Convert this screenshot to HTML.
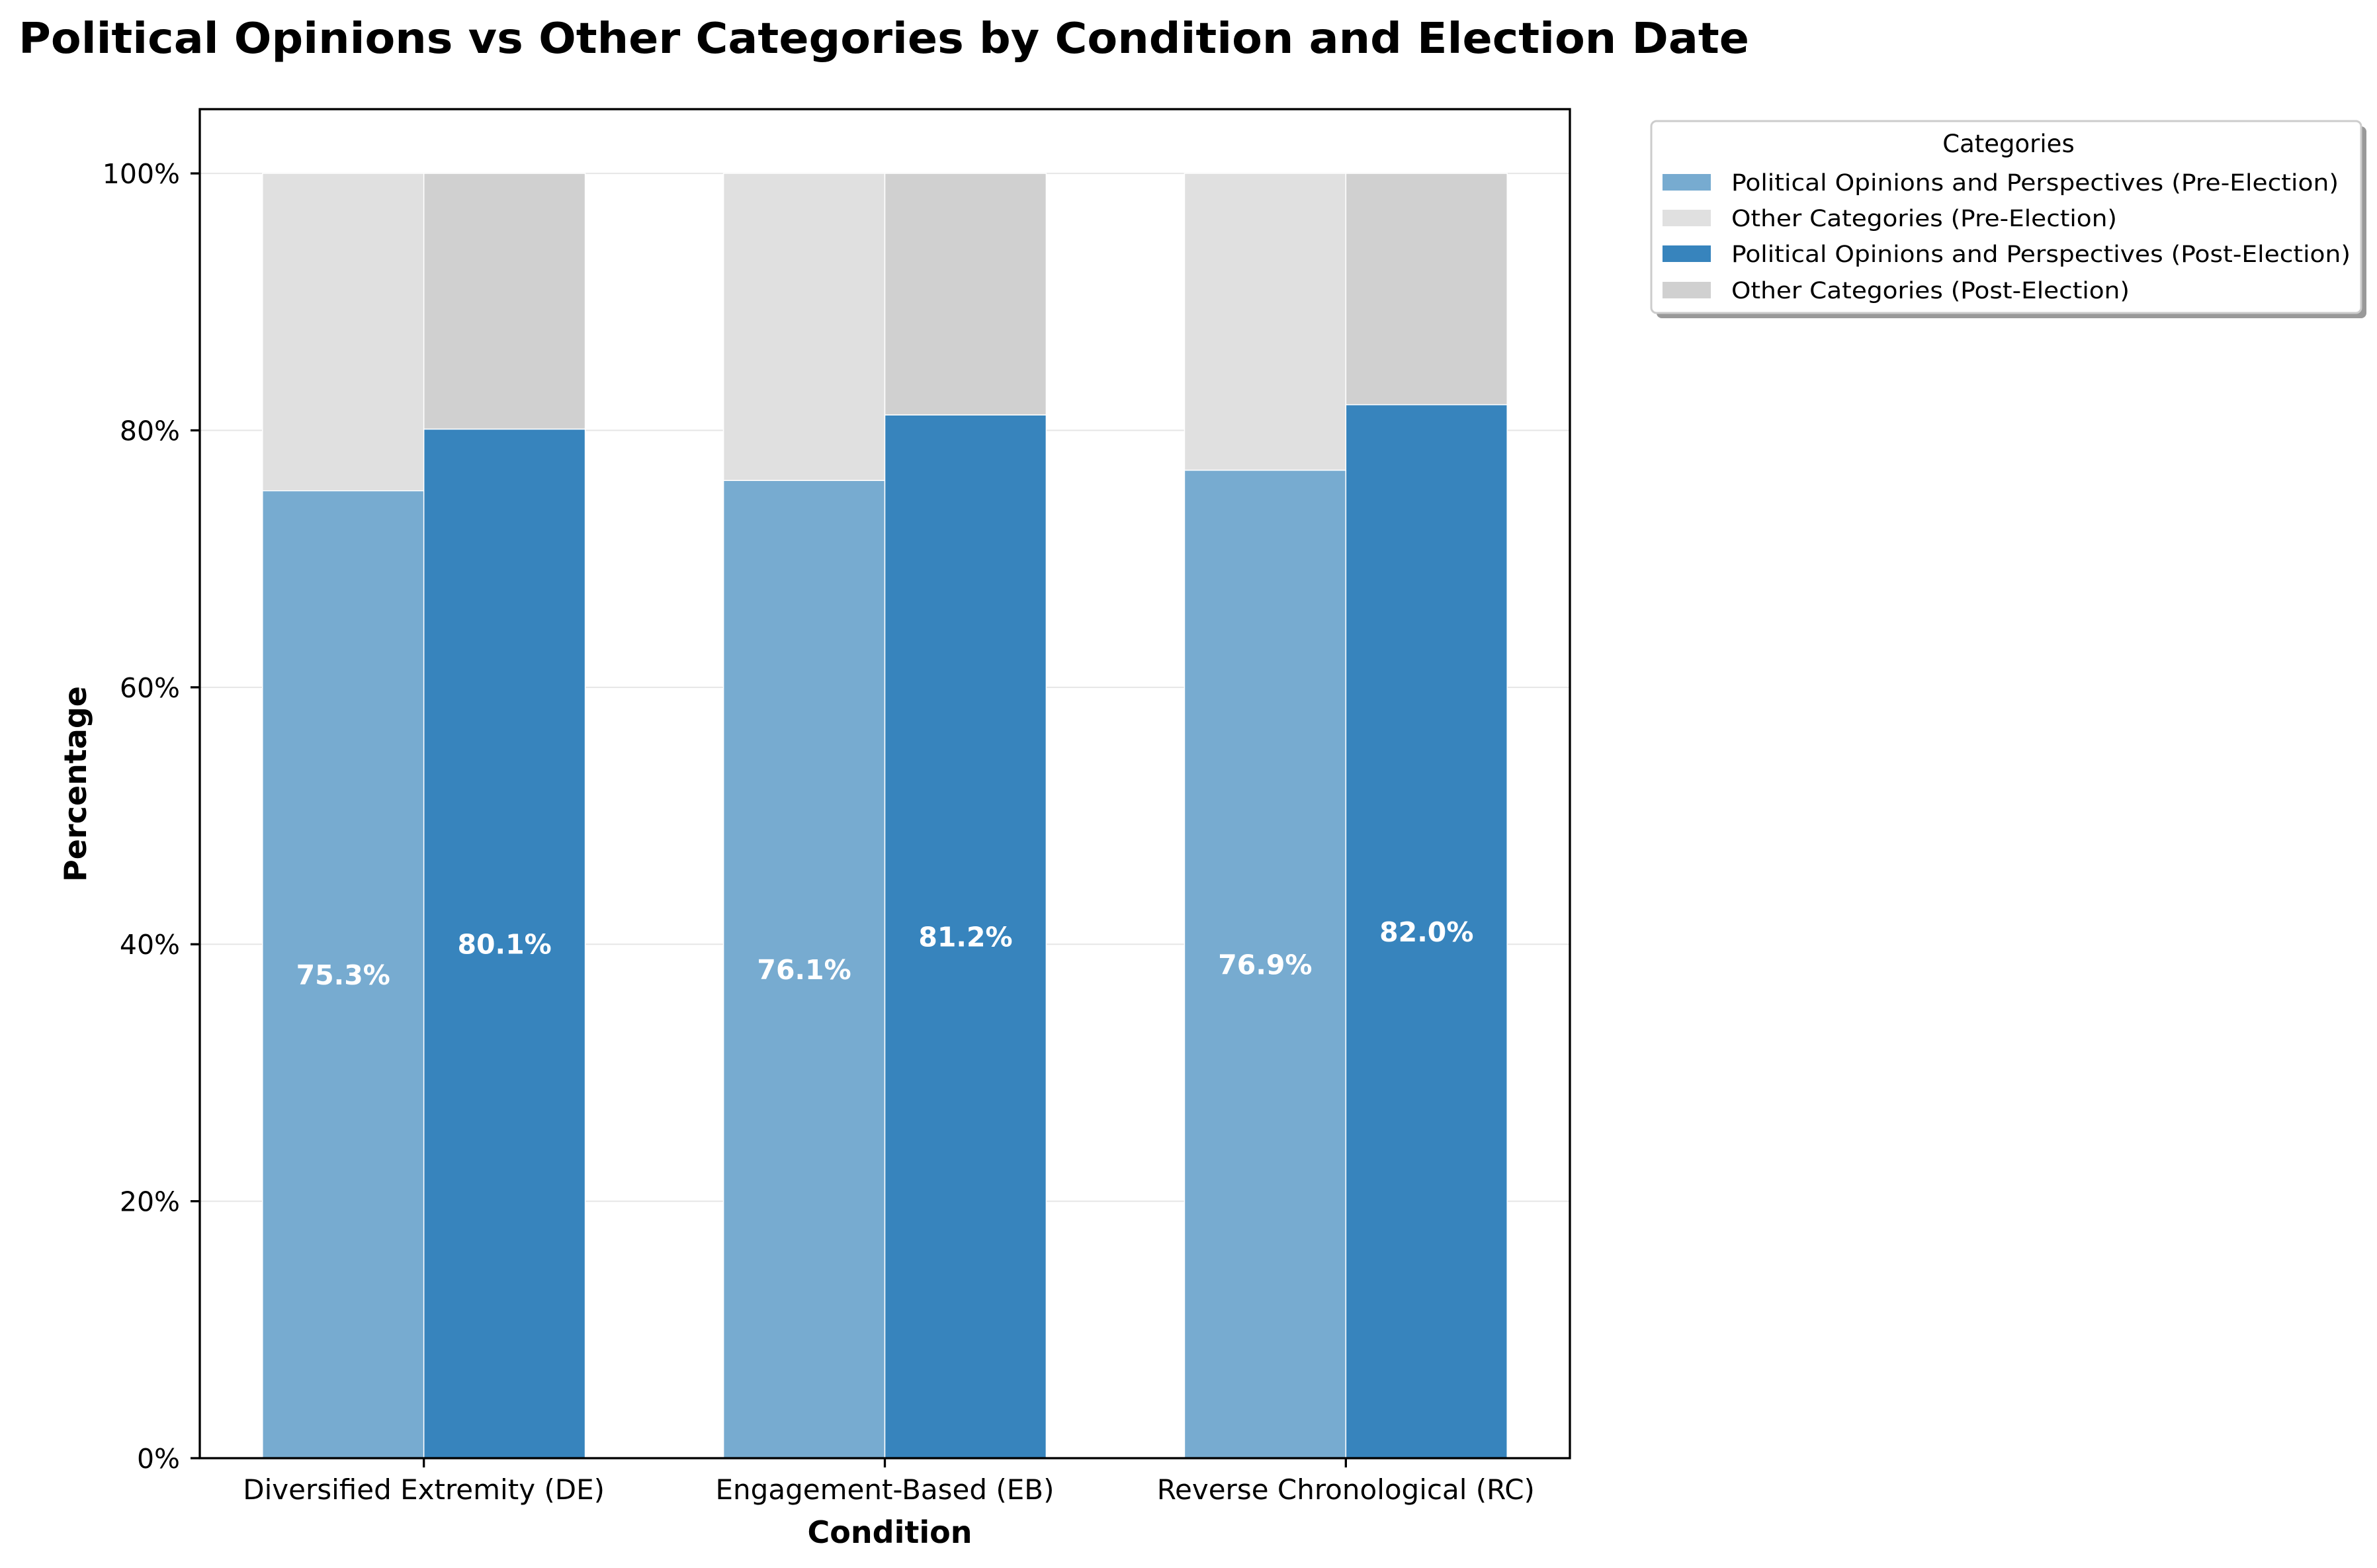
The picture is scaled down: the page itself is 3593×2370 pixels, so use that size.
<!DOCTYPE html>
<html><head><meta charset="utf-8"><style>
html,body{margin:0;padding:0;background:#fff;}
svg{display:block;font-family:"DejaVu Sans","Liberation Sans",sans-serif;}
</style></head><body>
<svg id="chart" width="3593" height="2370" viewBox="0 0 3593 2370" xmlns="http://www.w3.org/2000/svg">
<rect x="0" y="0" width="3593" height="2370" fill="#fff"/>
<text x="28" y="80" font-size="64" font-weight="bold" textLength="2616" lengthAdjust="spacingAndGlyphs">Political Opinions vs Other Categories by Condition and Election Date</text>
<g id="grid"></g>
<g id="bars"></g>
<g id="labels"></g>
<rect x="302" y="165" width="2071" height="2039" fill="none" stroke="#000" stroke-width="3.3"/>
<g id="yticks"></g>
<g id="xticks"></g>
<text x="0" y="0" transform="translate(130,1185) rotate(-90)" text-anchor="middle" font-size="46" font-weight="bold">Percentage</text>
<text x="1345" y="2332" text-anchor="middle" font-size="46" font-weight="bold">Condition</text>
<g>
<rect x="2504" y="191" width="1073" height="290" rx="8" fill="#999"/>
<rect x="2496" y="183" width="1073" height="290" rx="8" fill="#fff" stroke="#ccc" stroke-width="3"/>
<text x="3036" y="230" text-anchor="middle" font-size="37">Categories</text>
<g><rect x="2513" y="263" width="73" height="25" fill="#77abd0"/><text x="2617" y="288" font-size="35" textLength="918" lengthAdjust="spacingAndGlyphs">Political Opinions and Perspectives (Pre-Election)</text></g>
<g><rect x="2513" y="317" width="73" height="25" fill="#e0e0e0"/><text x="2617" y="342" font-size="35" textLength="583" lengthAdjust="spacingAndGlyphs">Other Categories (Pre-Election)</text></g>
<g><rect x="2513" y="371" width="73" height="25" fill="#3784bd"/><text x="2617" y="396" font-size="35" textLength="936" lengthAdjust="spacingAndGlyphs">Political Opinions and Perspectives (Post-Election)</text></g>
<g><rect x="2513" y="426" width="73" height="25" fill="#d0d0d0"/><text x="2617" y="451" font-size="35" textLength="602" lengthAdjust="spacingAndGlyphs">Other Categories (Post-Election)</text></g>
</g>
</svg>
<script>
const categories = ["Diversified Extremity (DE)", "Engagement-Based (EB)", "Reverse Chronological (RC)"];
const preValues = [75.3, 76.1, 76.9];
const postValues = [80.1, 81.2, 82.0];
const yTicks = [0, 20, 40, 60, 80, 100];
const yTickLabels = ["0%", "20%", "40%", "60%", "80%", "100%"];

const NS = "http://www.w3.org/2000/svg";
const PL = 302, PR = 2373, PB = 2204, PT = 165;
const X0 = -0.486, X1 = 2.486, Y0 = 0, Y1 = 105;
function xs(v){ return PL + (v - X0) / (X1 - X0) * (PR - PL); }
function ys(v){ return PB - (v - Y0) / (Y1 - Y0) * (PB - PT); }
const BW = 0.35;
function mk(tag, attrs, parent){
  const e = document.createElementNS(NS, tag);
  for (const k in attrs) e.setAttribute(k, attrs[k]);
  parent.appendChild(e);
  return e;
}
const grid = document.getElementById('grid');
const bars = document.getElementById('bars');
const labels = document.getElementById('labels');
const yt = document.getElementById('yticks');
const xt = document.getElementById('xticks');

yTicks.forEach((t, i) => {
  const g = mk('line', {x1: PL, x2: PR, y1: ys(t), y2: ys(t), stroke: '#e6e6e6', 'stroke-width': 2}, grid);
  
  
  const tk = mk('line', {x1: PL - 14, x2: PL, y1: ys(t), y2: ys(t), stroke: '#000', 'stroke-width': 3.3}, yt);
  
  
  const tx = mk('text', {x: PL - 30, y: ys(t) + 15, 'text-anchor': 'end', 'font-size': 41}, yt);
  tx.textContent = yTickLabels[i];
  
  
});

categories.forEach((c, i) => {
  const xPre = i - BW / 2, xPost = i + BW / 2;
  const series = [
    {cx: xPre, v: preValues[i], col: '#77abd0', oc: '#e0e0e0', nm: 'pre'},
    {cx: xPost, v: postValues[i], col: '#3784bd', oc: '#d0d0d0', nm: 'post'}
  ];
  series.forEach(s => {
    const left = xs(s.cx - BW / 2), w = xs(s.cx + BW / 2) - left;
    const b = mk('rect', {x: left, y: ys(s.v), width: w, height: ys(0) - ys(s.v), fill: s.col, stroke: '#fff', 'stroke-width': 1.5}, bars);
    
    
    const o = mk('rect', {x: left, y: ys(100), width: w, height: ys(s.v) - ys(100), fill: s.oc, stroke: '#fff', 'stroke-width': 1.5}, bars);
    
    
    const l = mk('text', {x: xs(s.cx), y: ys(s.v / 2) + 15, 'text-anchor': 'middle', 'font-size': 41, 'font-weight': 'bold', fill: '#fff'}, labels);
    l.textContent = s.v.toFixed(1) + '%';
    
    
  });
  const tk = mk('line', {x1: xs(i), x2: xs(i), y1: PB, y2: PB + 14, stroke: '#000', 'stroke-width': 3.3}, xt);
  
  
  const tx = mk('text', {x: xs(i), y: PB + 62, 'text-anchor': 'middle', 'font-size': 42}, xt);
  tx.textContent = c;
  
  
});
</script>
</body></html>
